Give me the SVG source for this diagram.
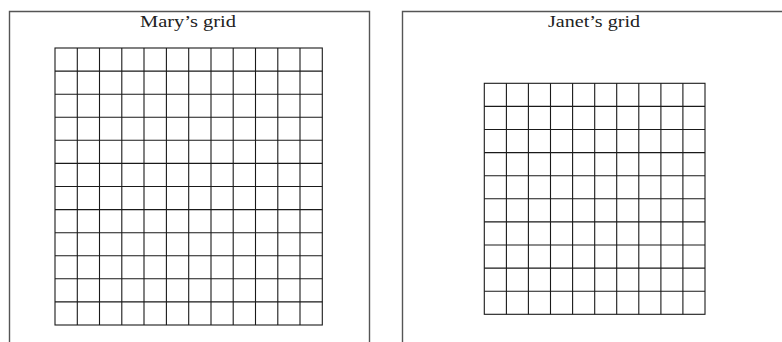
<svg xmlns="http://www.w3.org/2000/svg" width="782" height="342" viewBox="0 0 782 342">
<style>
.frame{fill:none;stroke:#555;stroke-width:1.4}
.grid{stroke:#1a1a1a;stroke-width:1.1;fill:none}
.title{font-family:"Liberation Serif","Times New Roman",serif;font-size:17px;fill:#222;text-anchor:middle}
</style>
<rect width="782" height="342" fill="#fff"/>
<g id="mary">
<path class="frame" d="M9.5,345 V11.5 H369.5 V345"/>
<text class="title" x="188" y="26.5" textLength="96" lengthAdjust="spacingAndGlyphs">Mary’s grid</text>
<g class="grid">
<rect x="55" y="48" width="267.3" height="277"/>
<path d="M77.3,48V325M99.5,48V325M121.8,48V325M144,48V325M166.4,48V325M188.7,48V325M211,48V325M233.2,48V325M255.5,48V325M277.8,48V325M300,48V325"/>
<path d="M55,71.1H322.3M55,94.2H322.3M55,117.2H322.3M55,140.3H322.3M55,163.4H322.3M55,186.5H322.3M55,209.6H322.3M55,232.7H322.3M55,255.7H322.3M55,278.8H322.3M55,301.9H322.3"/>
</g>
</g>
<g id="janet">
<path class="frame" d="M402.5,345 V11.5 H790"/>
<text class="title" x="594" y="26.5" textLength="92" lengthAdjust="spacingAndGlyphs">Janet’s grid</text>
<g class="grid">
<rect x="484.3" y="83.3" width="220.7" height="231"/>
<path d="M506.4,83.3V314.3M528.4,83.3V314.3M550.5,83.3V314.3M572.6,83.3V314.3M594.7,83.3V314.3M616.7,83.3V314.3M638.8,83.3V314.3M660.9,83.3V314.3M682.9,83.3V314.3"/>
<path d="M484.3,106.4H705M484.3,129.5H705M484.3,152.6H705M484.3,175.7H705M484.3,198.8H705M484.3,221.9H705M484.3,245H705M484.3,268.1H705M484.3,291.2H705"/>
</g>
</g>
</svg>
